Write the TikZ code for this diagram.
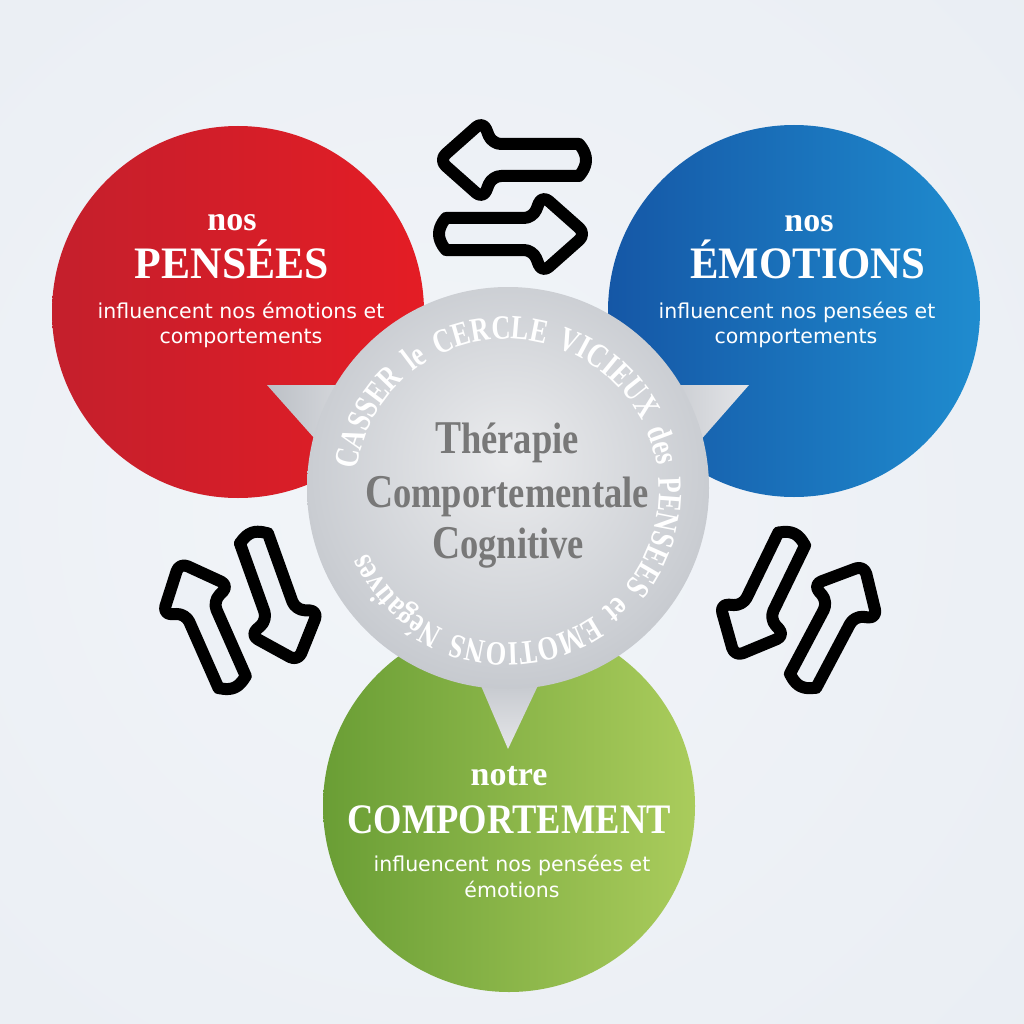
\documentclass[tikz,border=0pt]{standalone}
\usepackage{fontspec}
\setmainfont{Liberation Serif}
\setsansfont{DejaVu Sans}
\newfontfamily\condserif{Liberation Serif}[FakeStretch=0.83]
\newfontfamily\ringserif{Liberation Serif}[FakeStretch=0.78, WordSpace=1.7]
\usetikzlibrary{decorations.text,shadings}

\definecolor{bgin}{HTML}{F2F5F9}
\definecolor{bgout}{HTML}{DCE2EA}
\definecolor{arrowfill}{HTML}{EDF1F6}
\definecolor{redL}{HTML}{C41F2C}
\definecolor{redR}{HTML}{E41D25}
\definecolor{blueL}{HTML}{1557A6}
\definecolor{blueR}{HTML}{1F8CCF}
\definecolor{greenL}{HTML}{6A9E35}
\definecolor{greenR}{HTML}{AACC5C}
\definecolor{gin}{HTML}{EBECEE}
\definecolor{gmid}{HTML}{CBCED3}
\definecolor{gout}{HTML}{A3A7AF}
\definecolor{grayText}{HTML}{787878}
\definecolor{wedgeDark}{HTML}{BCC0C6}
\definecolor{wedgeLight}{HTML}{E4E5E8}

\pgfdeclareradialshading{grayball}{\pgfpoint{0bp}{4bp}}{color(0bp)=(gin); color(24bp)=(gmid); color(50bp)=(gout)}
\pgfdeclareradialshading{bgshade}{\pgfpoint{-5bp}{0bp}}{color(0bp)=(bgin); color(40bp)=(bgin!60!bgout); color(75bp)=(bgout)}

\newcommand\ringtext{\ringserif\bfseries\fontsize{34}{34}\selectfont\color{white}}
\newcommand\initcap[1]{{\fontsize{47}{47}\selectfont #1}}
\newcommand\restword[1]{{\fontsize{44}{44}\selectfont #1}}

\tikzset{
  outline/.style={draw=black, line width=12pt, fill=arrowfill, rounded corners=9pt, line join=round},
  pics/outarrow/.style={code={
    \path[outline] (0,0) -- (-44,39) -- (-53,16) -- (-131,16)
      arc[start angle=90, end angle=270, radius=16] -- (-53,-16) -- (-44,-39) -- cycle;
  }},
  disc/.style={circle, inner sep=0pt, minimum size=372pt, draw=none},
  smallhead/.style={font=\bfseries\fontsize{34}{34}\selectfont, text=white, anchor=base, inner sep=0pt},
  bighead/.style={font=\bfseries\fontsize{45}{45}\selectfont, text=white, anchor=base, inner sep=0pt},
  bodytext/.style={font=\sffamily\fontsize{20.5}{25}\selectfont, text=white, anchor=base, inner sep=0pt},
  grayword/.style={font=\condserif\bfseries, text=grayText, anchor=base, inner sep=0pt}
}

\begin{document}
\begin{tikzpicture}[x=1pt,y=1pt]
\useasboundingbox (0,0) rectangle (1024,-1024);
\shade[shading=bgshade] (0,0) rectangle (1024,-1024);

% arrows
\pic (arrTL) [rotate=180] at (439,-160) {outarrow};
\pic (arrTR) [rotate=0] at (586,-234) {outarrow};
\pic (arrLU) [rotate=113.8, scale=0.93] at (179.4,-562.5) {outarrow};
\pic (arrLD) [rotate=-70.3, scale=0.93] at (298,-661.4) {outarrow};
\pic (arrRD) [rotate=-115.9, scale=0.93] at (734.6,-656.6) {outarrow};
\pic (arrRU) [rotate=62.1, scale=0.93] at (864.2,-565.3) {outarrow};

% coloured discs
\node[disc, left color=redL, right color=redR] (redc) at (238,-312) {};
\node[disc, left color=blueL, right color=blueR] (bluec) at (794,-311) {};
\node[disc, left color=greenL, right color=greenR] (greenc) at (509,-806) {};

% pointers
\shade[left color=wedgeDark, right color=wedgeLight] (267,-385) -- (390,-385) -- (347,-475) -- cycle;
\shade[left color=wedgeDark, right color=wedgeLight] (749,-385) -- (630,-385) -- (670,-475) -- cycle;
\shade[top color=wedgeDark, bottom color=wedgeLight] (470,-660) -- (550,-660) -- (508,-749) -- cycle;

% grey centre
\node[circle, inner sep=0pt, minimum size=402pt, shading=grayball, draw=none] (grayc) at (508,-488) {};

% ring text
\begin{scope}
\ringtext
\path[decorate, decoration={text along path, text align=left,
  text={|\ringtext|CASSER le CERCLE VICIEUX des PENSEES et EMOTIONS Négatives}}]
  (507,-491) ++(172:152) arc[start angle=172, end angle=-185, radius=152];
\end{scope}

% centre text
\node[grayword] (t1) at (507,-453) {\initcap{T}\restword{hérapie}};
\node[grayword] (t2) at (507,-507) {\initcap{C}\restword{omportementale}};
\node[grayword] (t3) at (508,-558) {\initcap{C}\restword{ognitive}};

% red text
\node[smallhead] (r1) at (232,-230) {nos};
\node[bighead] (r2) at (232,-278) {\scalebox{0.97}[1]{PENSÉES}};
\node[bodytext] (r3) at (241,-318) {influencent nos émotions et};
\node[bodytext] (r4) at (241,-343) {comportements};

% blue text
\node[smallhead] (b1) at (809,-232) {nos};
\node[bighead] (b2) at (808,-278) {\scalebox{0.95}[1]{ÉMOTIONS}};
\node[bodytext] (b3) at (797,-318) {influencent nos pensées et};
\node[bodytext] (b4) at (796,-343) {comportements};

% green text
\node[smallhead] (g1) at (509,-785) {notre};
\node[bighead, font=\bfseries\fontsize{42}{42}\selectfont] (g2) at (509,-833) {\scalebox{0.87}[1]{COMPORTEMENT}};
\node[bodytext] (g3) at (512,-871) {influencent nos pensées et};
\node[bodytext] (g4) at (512,-897) {émotions};
\end{tikzpicture}
\end{document}
